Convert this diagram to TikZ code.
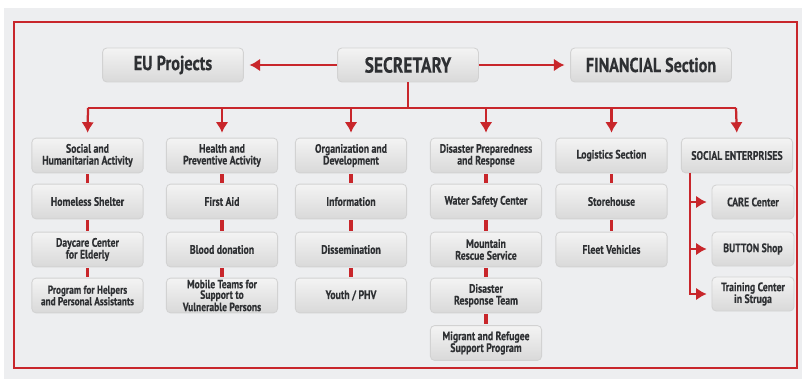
\documentclass[tikz,border=0pt]{standalone}
\usepackage{fontspec}
\setmainfont{PT Sans}[FakeStretch=0.8, BoldFeatures={FakeBold=0.3}]
\usetikzlibrary{arrows.meta}
\definecolor{redline}{HTML}{C8262B}
\definecolor{boxtext}{HTML}{2E3033}
\definecolor{bgray}{HTML}{EDEEF0}
\tikzset{>={Latex[length=7.5pt,width=9pt]}}
\tikzset{
  box/.style={rounded corners=3pt, draw=gray!35, line width=0.6pt,
    top color=gray!9, bottom color=gray!30, text=boxtext, align=center,
    font=\bfseries\fontsize{8.7}{8.4}\selectfont,
    minimum width=2.78cm, minimum height=0.87cm, inner sep=1pt},
  topbox/.style={box, minimum width=3.52cm, minimum height=0.85cm,
    font=\bfseries\fontsize{14.5}{14.5}\selectfont},
  subbox/.style={box, minimum width=2.05cm, minimum height=0.85cm},
  link/.style={redline, line width=2.4pt, shorten <=0.5pt, shorten >=0.5pt},
  bus/.style={redline, line width=1.6pt},
  arr/.style={bus, ->, shorten >=3.5pt}
}

\begin{document}
\begin{tikzpicture}[x=0.025cm, y=-0.025cm]
  % background and frame
  \fill[white] (0,0) rectangle (802,385);
  \fill[bgray] (4,8) rectangle (802,379);
  \useasboundingbox (0,0) rectangle (802,385);
  \draw[redline, line width=1.5pt] (14,22) rectangle (797,368);

  % top row
  \node[topbox, font=\bfseries\fontsize{15.5}{15.5}\selectfont] (sec) at (408,65) {SECRETARY};
  \node[topbox] (eu) at (173,65) {EU Projects};
  \node[topbox, minimum width=4.02cm, font=\bfseries\fontsize{14.3}{14.3}\selectfont] (fin) at (651,65) {FINANCIAL Section};
  \draw[arr, shorten >=4pt] (sec) -- (eu);
  \draw[arr, shorten >=4pt] (sec) -- (fin);

  % the six departments
  \node[box] (soc) at (87.5,155.5) {Social and\\Humanitarian Activity};
  \node[box] (health) at (222,155.5) {Health and\\Preventive Activity};
  \node[box] (org) at (351,155.5) {Organization and\\Development};
  \node[box] (dpr) at (486,155.5) {Disaster Preparedness\\and Response};
  \node[box] (log) at (611.5,155.5) {Logistics Section};
  \node[box] (se) at (737,155.5) {SOCIAL ENTERPRISES};

  % bus from the secretary
  \coordinate (busl) at (88,108);
  \coordinate (busr) at (736,108);
  \draw[bus] (sec.south) -- (sec.south |- busl);
  \draw[bus] (busl) -- (busr);
  \draw[arr] (busl) -- (soc.north);
  \draw[arr] (health.north |- busl) -- (health.north);
  \draw[arr] (org.north |- busl) -- (org.north);
  \draw[arr] (dpr.north |- busl) -- (dpr.north);
  \draw[arr] (log.north |- busl) -- (log.north);
  \draw[arr] (busr) -- (se.north);

  % column 1
  \node[box] (hom) at (87.5,201.5) {Homeless Shelter};
  \node[box] (day) at (87.5,249.5) {Daycare Center\\for Elderly};
  \node[box, font=\bfseries\fontsize{8.2}{8.2}\selectfont] (prog) at (87.5,295.5) {Program for Helpers\\and Personal Assistants};
  \draw[link] (soc) -- (hom); \draw[link] (hom) -- (day); \draw[link] (day) -- (prog);

  % column 2
  \node[box] (aid) at (222,201.5) {First Aid};
  \node[box] (blood) at (222,249.5) {Blood donation};
  \node[box, font=\bfseries\fontsize{8.5}{7.5}\selectfont] (mobile) at (222,295.5) {Mobile Teams for\\Support to\\Vulnerable Persons};
  \draw[link] (health) -- (aid); \draw[link] (aid) -- (blood); \draw[link] (blood) -- (mobile);

  % column 3
  \node[box] (info) at (351,201.5) {Information};
  \node[box] (dis) at (351,249.5) {Dissemination};
  \node[box] (youth) at (351,295.5) {Youth / PHV};
  \draw[link] (org) -- (info); \draw[link] (info) -- (dis); \draw[link] (dis) -- (youth);

  % column 4
  \node[box] (water) at (486,201.5) {Water Safety Center};
  \node[box] (mount) at (486,249.5) {Mountain\\Rescue Service};
  \node[box] (drt) at (486,295.5) {Disaster\\Response Team};
  \node[box] (mig) at (486,343) {Migrant and Refugee\\Support Program};
  \draw[link] (dpr) -- (water); \draw[link] (water) -- (mount);
  \draw[link] (mount) -- (drt); \draw[link] (drt) -- (mig);

  % column 5
  \node[box] (store) at (611.5,201.5) {Storehouse};
  \node[box] (fleet) at (611.5,249.5) {Fleet Vehicles};
  \draw[link] (log) -- (store); \draw[link] (store) -- (fleet);

  % social enterprises
  \node[subbox] (care) at (753,202) {CARE Center};
  \node[subbox] (button) at (753,249) {BUTTON Shop};
  \node[subbox] (train) at (753,294) {Training Center\\in Struga};
  \coordinate (trunk) at (690,173);
  \draw[arr] (trunk) |- (care.west);
  \draw[arr] (trunk) |- (button.west);
  \draw[arr] (trunk) |- (train.west);
\end{tikzpicture}
\end{document}
